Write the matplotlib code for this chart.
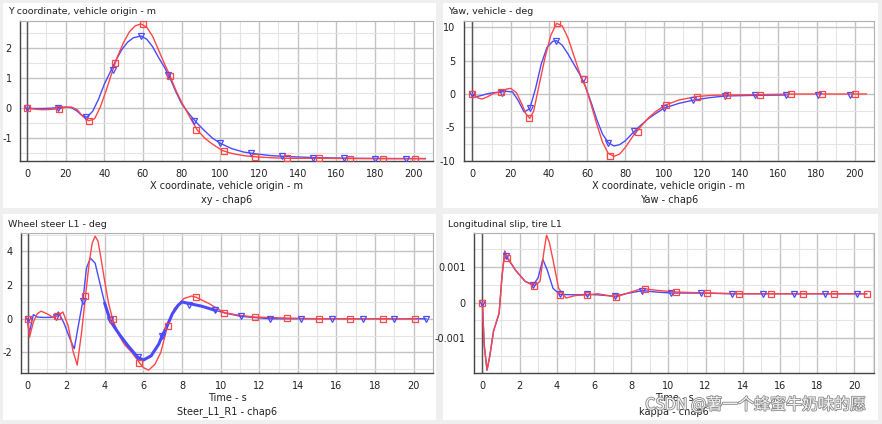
import matplotlib
matplotlib.use("Agg")
import matplotlib.pyplot as plt
import matplotlib.patheffects as pe
from matplotlib.patches import Rectangle
from matplotlib.ticker import MultipleLocator, FuncFormatter

plt.rcParams['axes.unicode_minus'] = False
plt.rcParams['font.family'] = ['DejaVu Sans']

RED = '#ff4646'
BLUE = '#4a4aff'

# ---- panel 1: xy ----
xy_red_x = [0, 4, 8, 12, 16, 20, 23, 26, 29, 32, 35, 38, 41, 44, 47, 50, 53, 56, 59, 62, 65, 68, 71, 74,
            77, 80, 84, 88, 92, 96, 101, 106, 112, 118, 126, 134, 150, 170, 190, 206]
xy_red_y = [0, -0.03, -0.05, -0.04, -0.02, 0.03, 0.04, -0.05, -0.28, -0.42, -0.35, 0.05, 0.6, 1.2, 1.75,
            2.2, 2.55, 2.75, 2.81, 2.7, 2.4, 1.95, 1.5, 1.08, 0.6, 0.2, -0.27, -0.72, -1.0, -1.2, -1.41,
            -1.51, -1.58, -1.62, -1.65, -1.67, -1.67, -1.68, -1.68, -1.68]
xy_blue_x = [0, 4, 8, 12, 16, 20, 23, 26, 28, 31, 34, 37, 40, 43, 46, 49, 52, 55, 59, 62, 65, 68, 71, 74,
             77, 80, 84, 88, 92, 96, 100, 106, 112, 118, 126, 134, 150, 170, 190, 206]
xy_blue_y = [0, -0.01, -0.01, 0.0, 0.02, 0.04, 0.02, -0.1, -0.22, -0.3, -0.1, 0.3, 0.8, 1.2, 1.6, 1.95,
             2.2, 2.35, 2.41, 2.3, 2.05, 1.7, 1.38, 1.0, 0.55, 0.15, -0.2, -0.5, -0.76, -1.0, -1.17, -1.35,
             -1.46, -1.52, -1.58, -1.61, -1.65, -1.67, -1.68, -1.68]
xy_red_mk_x = [0, 16.4, 31.9, 45.7, 59.8, 74.1, 87.6, 101.7, 118.1, 134.5, 150.9, 167.2, 184, 200.5]
xy_red_mk_y = [0, -0.03, -0.41, 1.52, 2.81, 1.08, -0.72, -1.41, -1.61, -1.67, -1.67, -1.68, -1.68, -1.68]
xy_blue_mk_x = [0, 16, 30.7, 44.5, 59, 72.9, 86.2, 100, 116, 131.9, 147.8, 163.8, 179.8, 196]
xy_blue_mk_y = [0, 0.02, -0.28, 1.28, 2.41, 1.11, -0.44, -1.17, -1.5, -1.59, -1.65, -1.67, -1.68, -1.68]

# ---- panel 2: yaw ----
yaw_red_x = [0, 3, 5, 8, 11, 15, 18, 20, 23, 26, 28, 30, 32, 35, 38, 41, 44, 47, 50, 53, 56, 59, 62, 65,
             68, 71, 74, 77, 80, 84, 88, 92, 96, 101, 108, 117, 125, 133, 150, 170, 190, 206]
yaw_red_y = [0, -0.6, -0.75, -0.4, 0.1, 0.35, 0.75, 0.85, 0.2, -1.6, -3.0, -3.65, -2.6, 1.5, 5.5, 8.8,
             10.6, 10.2, 8.4, 5.8, 3.2, 1.2, -1.5, -4.5, -7.2, -8.9, -9.35, -9.0, -8.0, -6.3, -4.9, -3.6,
             -2.6, -1.65, -0.9, -0.4, -0.2, -0.15, -0.1, 0, 0, 0]
yaw_blue_x = [0, 2, 5, 8, 11, 15, 18, 21, 24, 27, 30, 33, 36, 39, 42, 44, 47, 50, 53, 56, 59, 62, 65, 68,
              71, 74, 77, 80, 84, 88, 92, 96, 100, 108, 116, 124, 132, 148, 164]
yaw_blue_y = [0, -0.4, -0.2, 0.05, 0.2, 0.3, 0.4, 0.3, -1.0, -2.7, -2.2, 0.8, 4.5, 7.0, 7.9, 8.0, 7.3,
              6.0, 4.5, 3.0, 1.2, -1.2, -3.8, -6.0, -7.3, -7.8, -7.6, -7.0, -5.8, -4.7, -3.7, -2.9,
              -2.15, -1.4, -0.9, -0.55, -0.3, -0.2, -0.15]
yaw_red_mk_x = [0, 14.8, 29.7, 44.2, 58.2, 72, 86.5, 101.3, 117.4, 133.1, 150.2, 166.5, 183, 200]
yaw_red_mk_y = [0, 0.35, -3.65, 10.6, 2.3, -9.3, -5.65, -1.65, -0.4, -0.15, -0.1, 0, 0, 0]
yaw_blue_mk_x = [0, 15.4, 29.9, 43.7, 57.6, 71.1, 84.7, 100, 115.6, 131.9, 148, 164.2, 180.8, 197.4]
yaw_blue_mk_y = [0, 0.2, -2.15, 8.0, 2.2, -7.3, -5.55, -2.15, -0.9, -0.3, -0.2, -0.15, -0.15, -0.15]

# ---- panel 3: steer ----
st_red_x = [0, 0.1, 0.3, 0.5, 0.7, 1.0, 1.3, 1.52, 1.83, 2.1, 2.35, 2.57, 2.8, 3.0, 3.2, 3.35, 3.5, 3.65,
            3.8, 4.0, 4.2, 4.4, 4.7, 5.0, 5.4, 5.79, 6.0, 6.27, 6.6, 6.9, 7.25, 7.6, 8.1, 8.5, 8.74,
            9.4, 10.19, 11.0, 11.8, 13.44, 15.1, 17, 19, 20.05]
st_red_y = [0, -1.1, -0.2, 0.3, 0.45, 0.3, 0.1, 0.14, 0.4, -0.4, -1.9, -2.75, -0.8, 1.35, 3.4, 4.5, 4.9,
            4.6, 3.6, 2.2, 0.9, 0, -0.9, -1.5, -2.0, -2.6, -2.9, -3.05, -2.7, -2.0, -0.44, 0.6, 1.2, 1.35,
            1.27, 0.9, 0.36, 0.2, 0.1, 0.04, 0, 0, 0, 0]
st_blue_x = [0, 0.08, 0.3, 0.5, 0.8, 1.1, 1.4, 1.6, 1.9, 2.2, 2.42, 2.6, 2.87, 3.05, 3.25, 3.5, 3.77,
             4.0, 4.28, 4.5, 4.8, 5.2, 5.7, 6.0, 6.4, 6.8, 6.96, 7.2, 7.5, 7.8, 8.0, 8.38, 9.0, 9.72,
             10.2, 11.05, 12.57, 14.16, 15.77, 17.36, 19.0, 20.64]
st_blue_y = [0, -0.9, 0.25, 0.1, 0.08, 0.08, 0.1, 0.4, -0.3, -1.2, -1.78, -0.6, 1.1, 3.0, 3.6, 3.3, 2.0,
             0.9, -0.1, -0.5, -1.0, -1.6, -2.28, -2.45, -2.2, -1.5, -1.03, -0.5, 0.3, 0.8, 1.0, 0.9,
             0.75, 0.5, 0.35, 0.14, 0.0, 0, 0, 0, 0, 0]
st_red_mk_x = [0, 1.52, 2.99, 4.4, 5.79, 7.25, 8.74, 10.19, 11.8, 13.44, 15.1, 16.7, 18.4, 20.05]
st_red_mk_y = [0, 0.14, 1.35, 0, -2.6, -0.44, 1.27, 0.36, 0.1, 0.04, 0, 0, 0, 0]
st_blue_mk_x = [0, 1.49, 2.87, 4.28, 5.7, 6.96, 8.38, 9.72, 11.05, 12.57, 14.16, 15.77, 17.36, 19.0, 20.64]
st_blue_mk_y = [0, 0.1, 1.03, -0.1, -2.28, -1.03, 0.8, 0.5, 0.14, 0, 0, 0, 0, 0, 0]

# ---- panel 4: longitudinal slip ----
kp_red_x = [0, 0.1, 0.25, 0.4, 0.6, 0.9, 1.05, 1.2, 1.35, 1.8, 2.3, 2.78, 3.1, 3.3, 3.45, 3.6, 3.8, 4.1,
            4.5, 5.0, 5.65, 6.2, 7.2, 7.7, 8.6, 9.3, 10.4, 12.1, 13.81, 15.52, 17.22, 18.92, 20.66]
kp_red_y = [0, -0.0012, -0.0019, -0.0015, -0.0008, -0.0003, 0.0007, 0.00145, 0.00127, 0.0009, 0.0006,
            0.00047, 0.0006, 0.0014, 0.0019, 0.0017, 0.0012, 0.0004, 0.00013, 0.0002, 0.00022, 0.00025,
            0.00016, 0.00025, 0.0004, 0.00035, 0.0003, 0.00027, 0.00025, 0.00025, 0.00025, 0.00025, 0.00025]
kp_blue_x = [0, 0.1, 0.25, 0.4, 0.6, 0.9, 1.05, 1.2, 1.29, 1.8, 2.3, 2.74, 3.0, 3.25, 3.5, 3.8, 4.18,
             5.0, 5.65, 6.2, 7.14, 7.7, 8.61, 9.3, 10.17, 11.78, 13.4, 15.07, 16.74, 18.42, 20.13, 20.66]
kp_blue_y = [0, -0.0012, -0.0019, -0.0015, -0.0008, -0.0003, 0.0007, 0.00145, 0.0013, 0.0009, 0.0006,
             0.0005, 0.0007, 0.00122, 0.0009, 0.0004, 0.00023, 0.00022, 0.00023, 0.00022, 0.00018,
             0.00025, 0.00034, 0.0003, 0.00027, 0.00027, 0.00025, 0.00025, 0.00025, 0.00025, 0.00025, 0.00025]
kp_red_mk_x = [0, 1.35, 2.78, 4.18, 5.65, 7.21, 8.74, 10.4, 12.1, 13.81, 15.52, 17.22, 18.92, 20.66]
kp_red_mk_y = [0, 0.00127, 0.00047, 0.00021, 0.00021, 0.00016, 0.00039, 0.00029, 0.00027, 0.00025,
               0.00025, 0.00025, 0.00025, 0.00025]
kp_blue_mk_x = [0, 1.29, 2.74, 4.18, 5.65, 7.14, 8.61, 10.17, 11.78, 13.4, 15.07, 16.74, 18.42, 20.13]
kp_blue_mk_y = [0, 0.0013, 0.0005, 0.00023, 0.00023, 0.00018, 0.00034, 0.00027, 0.00027, 0.00025,
                0.00025, 0.00025, 0.00025, 0.00025]

W, H = 882, 424
fig = plt.figure(figsize=(W / 100, H / 100), dpi=100, facecolor='#efefef')


def px_axes(left, top, right, bottom):
    return fig.add_axes([left / W, 1 - bottom / H, (right - left) / W, (bottom - top) / H])


def panel_box(left, top, right, bottom):
    fig.patches.append(Rectangle((left / W, 1 - bottom / H), (right - left) / W, (bottom - top) / H,
                                 transform=fig.transFigure, facecolor='white', edgecolor='none', zorder=-10))


def setup(ax, xlim, ylim, xmaj, xmin, ymaj, ymin, title, xlabel, sub, title_x, fmt=None):
    ax.set_xlim(xlim)
    ax.set_ylim(ylim)
    ax.xaxis.set_major_locator(MultipleLocator(xmaj))
    ax.xaxis.set_minor_locator(MultipleLocator(xmin))
    ax.yaxis.set_major_locator(MultipleLocator(ymaj))
    ax.yaxis.set_minor_locator(MultipleLocator(ymin))
    if fmt:
        ax.yaxis.set_major_formatter(FuncFormatter(fmt))
    ax.grid(True, which='major', color='#c4c4c4', lw=1.0)
    ax.grid(True, which='minor', color='#e4e4e4', lw=0.8)
    ax.set_axisbelow(True)
    ax.tick_params(which='both', length=0, labelsize=7, colors='#222222', pad=6)
    ax.axvline(0, color='#555555', lw=1.0, zorder=1)
    for s in ['left', 'bottom']:
        ax.spines[s].set_color('#444444')
        ax.spines[s].set_linewidth(1.0)
    for s in ['top', 'right']:
        ax.spines[s].set_color('#b0b0b0')
    bb = ax.get_position()
    fig.text(title_x / W, bb.y1 + 9 / H, title, fontsize=6.8, color='#222222', va='center', ha='left')
    cx = (bb.x0 + bb.x1) / 2
    fig.text(cx, bb.y0 - 25 / H, xlabel, fontsize=7, color='#222222', ha='center', va='center')
    fig.text(cx, bb.y0 - 39 / H, sub, fontsize=7, color='#222222', ha='center', va='center')


def draw(ax, rx, ry, bx, by, rmx, rmy, bmx, bmy):
    ax.plot(bx, by, color=BLUE, lw=1.0, zorder=3)
    ax.plot(rx, ry, color=RED, lw=1.0, zorder=3)
    ax.plot(bmx, bmy, ls='none', marker='v', ms=5, mfc='none', mec=BLUE, mew=0.9, zorder=4)
    ax.plot(rmx, rmy, ls='none', marker='s', ms=4.5, mfc='none', mec=RED, mew=0.9, zorder=4)


panel_box(3, 3, 436, 208)
panel_box(443, 3, 878, 208)
panel_box(3, 214, 436, 420)
panel_box(443, 214, 878, 420)

ax1 = px_axes(20, 21, 433, 161)
draw(ax1, xy_red_x, xy_red_y, xy_blue_x, xy_blue_y, xy_red_mk_x, xy_red_mk_y, xy_blue_mk_x, xy_blue_mk_y)
setup(ax1, (-3.6, 210), (-1.76, 2.91), 20, 10, 1, 0.5,
      'Y coordinate, vehicle origin - m', 'X coordinate, vehicle origin - m', 'xy - chap6', 8)

ax2 = px_axes(464, 21, 874, 161)
draw(ax2, yaw_red_x, yaw_red_y, yaw_blue_x, yaw_blue_y, yaw_red_mk_x, yaw_red_mk_y, yaw_blue_mk_x, yaw_blue_mk_y)
setup(ax2, (-4.4, 210), (-10.05, 10.95), 20, 10, 5, 2.5,
      'Yaw, vehicle - deg', 'X coordinate, vehicle origin - m', 'Yaw - chap6', 448)

ax3 = px_axes(21, 233, 433, 373)
draw(ax3, st_red_x, st_red_y, st_blue_x, st_blue_y, st_red_mk_x, st_red_mk_y, st_blue_mk_x, st_blue_mk_y)
# dense sample markers on the blue steer trace
ax3.plot(st_blue_x[17:34], st_blue_y[17:34], color=BLUE, lw=2.2, zorder=3)
setup(ax3, (-0.34, 21.0), (-3.22, 5.09), 2, 1, 2, 1,
      'Wheel steer L1 - deg', 'Time - s', 'Steer_L1_R1 - chap6', 8)

ax4 = px_axes(474, 233, 874, 373)
draw(ax4, kp_red_x, kp_red_y, kp_blue_x, kp_blue_y, kp_red_mk_x, kp_red_mk_y, kp_blue_mk_x, kp_blue_mk_y)
setup(ax4, (-0.45, 21.06), (-0.00198, 0.00196), 2, 1, 0.001, 0.0005,
      'Longitudinal slip, tire L1', 'Time - s', 'kappa - chap6', 448,
      fmt=lambda v, p: '0' if abs(v) < 1e-9 else f'{v:.3f}')

fig.text(866 / W, 1 - 405 / H, 'CSDN @薯一个蜂蜜牛奶味的愿', fontsize=11.5, ha='right', va='center',
         color='#f4f4f4', family=['Noto Sans CJK SC', 'DejaVu Sans'],
         path_effects=[pe.withStroke(linewidth=1.2, foreground='#8a8a8a')])

fig.savefig('out.png', dpi=100, facecolor=fig.get_facecolor())
